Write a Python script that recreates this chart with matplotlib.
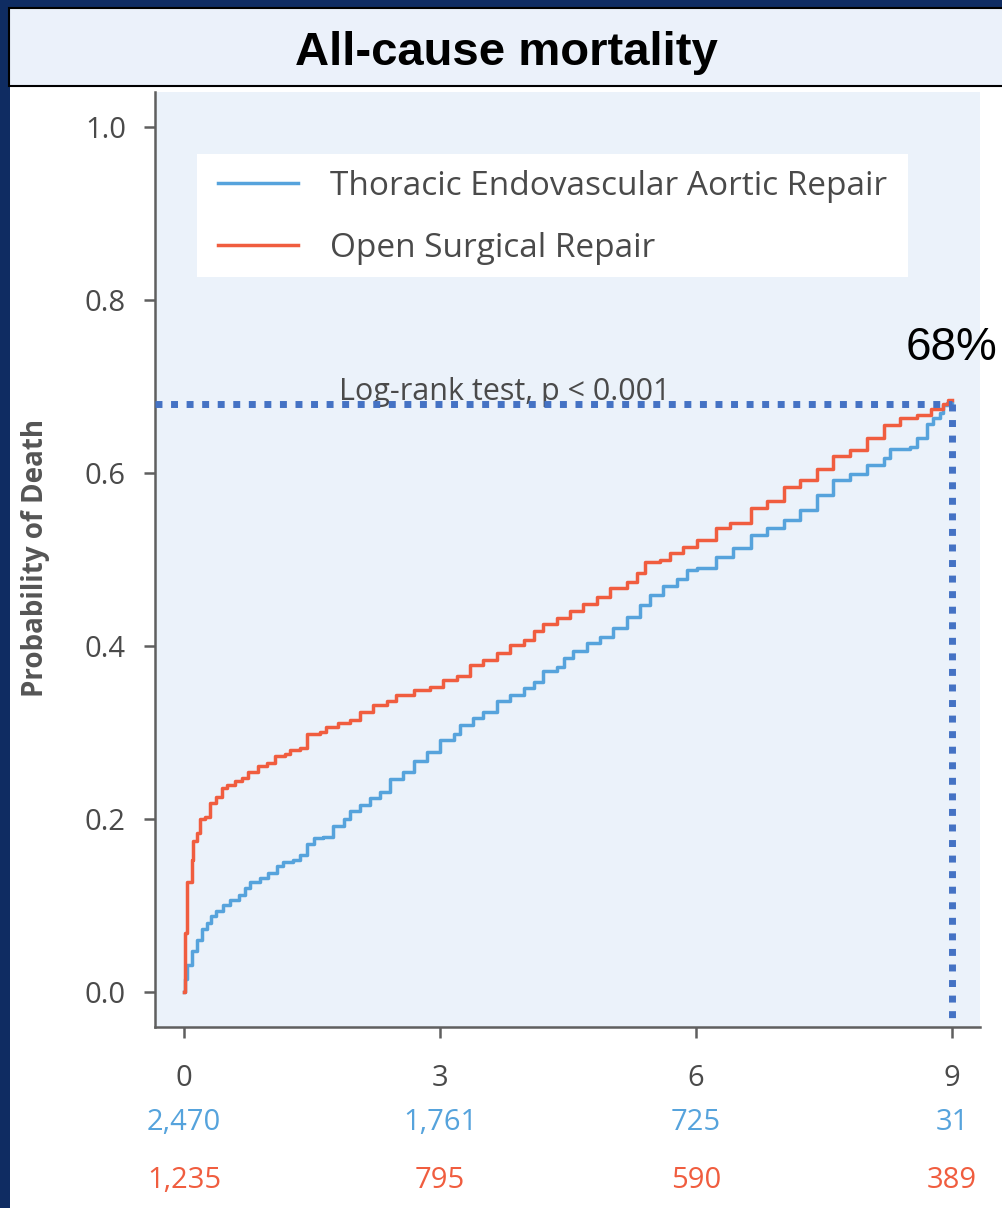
import matplotlib
matplotlib.use("Agg")
import matplotlib.pyplot as plt
from matplotlib.patches import Rectangle
from matplotlib.lines import Line2D
import matplotlib.transforms as mtransforms

plt.rcParams['font.family'] = ['Open Sans', 'DejaVu Sans']

# ---------------- data ----------------
title = "All-cause mortality"
series_names = ["Thoracic Endovascular Aortic Repair", "Open Surgical Repair"]

tevar_t = [0, 0.01, 0.03, 0.09, 0.15, 0.21, 0.27, 0.32, 0.38, 0.46, 0.54, 0.64, 0.72, 0.77,
           0.89, 0.99, 1.09, 1.16, 1.28, 1.36, 1.44, 1.52, 1.63, 1.75, 1.87, 1.95, 2.06,
           2.18, 2.30, 2.41, 2.57, 2.69, 2.85, 3.00, 3.16, 3.24, 3.39, 3.51, 3.67, 3.82,
           3.98, 4.10, 4.21, 4.37, 4.45, 4.56, 4.72, 4.88, 5.03, 5.19, 5.35, 5.46, 5.62,
           5.78, 5.89, 6.01, 6.24, 6.44, 6.64, 6.83, 7.03, 7.22, 7.42, 7.61, 7.81, 8.00,
           8.20, 8.28, 8.51, 8.59, 8.71, 8.78, 8.86, 8.90, 8.94, 9.0]
tevar_p = [0, 0.015, 0.032, 0.048, 0.061, 0.073, 0.080, 0.088, 0.094, 0.101, 0.107, 0.113, 0.121, 0.128,
           0.132, 0.138, 0.146, 0.151, 0.153, 0.159, 0.171, 0.178, 0.180, 0.192, 0.200, 0.209, 0.217,
           0.225, 0.232, 0.246, 0.255, 0.267, 0.278, 0.292, 0.298, 0.309, 0.317, 0.324, 0.336, 0.344,
           0.351, 0.359, 0.371, 0.376, 0.386, 0.394, 0.403, 0.411, 0.421, 0.434, 0.448, 0.459, 0.469,
           0.478, 0.488, 0.490, 0.503, 0.513, 0.528, 0.536, 0.546, 0.557, 0.574, 0.592, 0.599, 0.609,
           0.617, 0.628, 0.630, 0.640, 0.657, 0.663, 0.669, 0.678, 0.681, 0.681]

osr_t = [0, 0.012, 0.03, 0.09, 0.11, 0.15, 0.19, 0.25, 0.30, 0.38, 0.44, 0.50, 0.60, 0.68,
         0.75, 0.87, 0.97, 1.07, 1.18, 1.24, 1.36, 1.44, 1.59, 1.67, 1.81, 1.95, 2.06, 2.22,
         2.38, 2.49, 2.69, 2.88, 3.04, 3.20, 3.35, 3.51, 3.67, 3.82, 3.98, 4.10, 4.21, 4.37,
         4.53, 4.68, 4.84, 4.99, 5.19, 5.31, 5.40, 5.58, 5.70, 5.85, 6.01, 6.24, 6.40, 6.64,
         6.83, 7.03, 7.22, 7.42, 7.61, 7.81, 8.00, 8.20, 8.39, 8.59, 8.75, 8.90, 8.96, 9.0]
osr_p = [0, 0.069, 0.127, 0.153, 0.175, 0.184, 0.200, 0.203, 0.219, 0.226, 0.236, 0.240, 0.244, 0.248,
         0.255, 0.261, 0.265, 0.273, 0.275, 0.280, 0.282, 0.298, 0.301, 0.307, 0.311, 0.315, 0.324, 0.332,
         0.336, 0.344, 0.349, 0.353, 0.361, 0.365, 0.378, 0.384, 0.392, 0.401, 0.407, 0.417, 0.426, 0.432,
         0.440, 0.449, 0.457, 0.467, 0.474, 0.484, 0.497, 0.499, 0.507, 0.515, 0.522, 0.536, 0.542, 0.559,
         0.567, 0.584, 0.592, 0.605, 0.619, 0.626, 0.640, 0.655, 0.663, 0.667, 0.674, 0.680, 0.684, 0.684]

x_ticks = [0, 3, 6, 9]
y_ticks = [0.0, 0.2, 0.4, 0.6, 0.8, 1.0]
tevar_at_risk = ["2,470", "1,761", "725", "31"]
osr_at_risk = ["1,235", "795", "590", "389"]

ref_time = 9
ref_prob = 0.68
ref_label = "68%"
test_label = "Log-rank test, p < 0.001"

# ---------------- style ----------------
NAVY = "#0f2c62"
BLUE = "#56a3dc"
RED = "#f05d3f"
DOT = "#4472c4"
PANEL = "#ebf2fa"
SPINE = "#5f5f5f"
TXT = "#4a4a4a"

W, H = 1002, 1208
fig = plt.figure(figsize=(W / 100, H / 100), dpi=100)
fig.patch.set_facecolor(NAVY)

fig.add_artist(Rectangle((10 / W, 0), 1, (H - 86) / H, transform=fig.transFigure,
                         facecolor="white", edgecolor="none", zorder=0))
fig.add_artist(Rectangle((9 / W, (H - 86) / H), 1.2, (86 - 8) / H, transform=fig.transFigure,
                         facecolor="#ebf1fa", edgecolor="black", lw=1.5, zorder=1))
fig.text(506 / W, (H - 65) / H, title, ha="center", va="baseline",
         fontsize=34, fontweight="bold", family="Liberation Sans", color="black")

ax = fig.add_axes([155 / W, (H - 1027) / H, (980 - 155) / W, (1027 - 92) / H])
ax.set_facecolor(PANEL)
ax.set_xlim(-0.34, 9.33)
ax.set_ylim(-0.04, 1.04)

for s in ["top", "right"]:
    ax.spines[s].set_visible(False)
for s in ["left", "bottom"]:
    ax.spines[s].set_color(SPINE)
    ax.spines[s].set_linewidth(1.8)

ax.set_xticks(x_ticks)
ax.set_yticks(y_ticks)
ax.set_yticklabels([f"{v:.1f}" for v in y_ticks])
ax.tick_params(direction="out", length=8, width=1.8, color=SPINE,
               labelsize=21, labelcolor=TXT)
ax.tick_params(axis="y", pad=13)
ax.tick_params(axis="x", pad=19)

ax.set_ylabel("Probability of Death", fontsize=20, fontweight="bold", color="#555555")
ax.yaxis.set_label_coords(-0.127, 0.502)

ax.plot(tevar_t, tevar_p, drawstyle="steps-post", color=BLUE, lw=2.5, zorder=3)
ax.plot(osr_t, osr_p, drawstyle="steps-post", color=RED, lw=2.5, zorder=3)

# reference dotted lines
xmin, _ = ax.get_xlim()
ymin, _ = ax.get_ylim()
ax.plot([xmin, ref_time], [ref_prob, ref_prob], color=DOT, lw=5,
        linestyle=(0, (1, 1.24)), zorder=4, clip_on=False)
ax.plot([ref_time, ref_time], [ref_prob, ymin + 0.008], color=DOT, lw=5,
        linestyle=(0, (1, 1.24)), zorder=4, clip_on=False)

ax.annotate(ref_label, xy=(ref_time, ref_prob), xytext=(0, 40), textcoords="offset points",
            ha="center", va="center", fontsize=33, family="Liberation Sans",
            color="black", annotation_clip=False)
ax.text(3.76, 0.684, test_label, ha="center", va="baseline", fontsize=22, color=TXT, zorder=3)

# legend
ax.add_patch(Rectangle((0.0509, 0.8021), 0.8618, 0.1316, transform=ax.transAxes,
                       facecolor="white", edgecolor="none", zorder=2))
handles = [Line2D([], [], color=BLUE, lw=2.5), Line2D([], [], color=RED, lw=2.5)]
leg = ax.legend(handles, series_names, loc="upper left", bbox_to_anchor=(0.0764, 0.917),
                borderaxespad=0, borderpad=0, frameon=False, fontsize=24,
                handlelength=2.4, handletextpad=0.96, labelspacing=0.87)
for t in leg.get_texts():
    t.set_color(TXT)
leg.set_zorder(5)

# numbers at risk
trans = mtransforms.blended_transform_factory(ax.transData, ax.transAxes)
for x, lab in zip(x_ticks, tevar_at_risk):
    ax.text(x, -0.102, lab, transform=trans, ha="center", va="center",
            fontsize=21, color=BLUE, clip_on=False)
for x, lab in zip(x_ticks, osr_at_risk):
    ax.text(x, -0.164, lab, transform=trans, ha="center", va="center",
            fontsize=21, color=RED, clip_on=False)

fig.savefig("out.png", dpi=100, facecolor=fig.get_facecolor())
